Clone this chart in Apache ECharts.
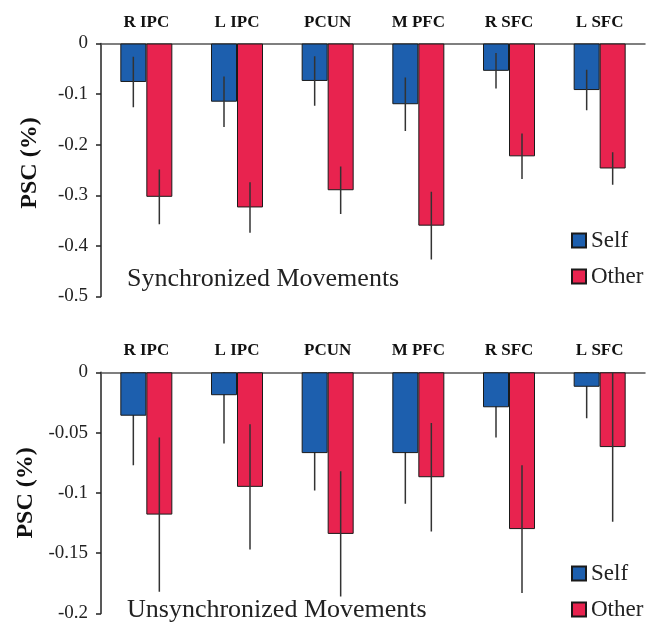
<!DOCTYPE html>
<html>
<head>
<meta charset="utf-8">
<script src="https://cdn.jsdelivr.net/npm/echarts@6/dist/echarts.min.js"></script>
<style>
  html, body { margin: 0; padding: 0; background: #fff; }
  #chart { width: 654px; height: 623px; }
</style>
</head>
<body>
<div id="chart"></div>
<script>
// Brain regions (one group of bars each)
const categories = ['R IPC', 'L IPC', 'PCUN', 'M PFC', 'R SFC', 'L SFC'];

// Synchronized movements: mean PSC and error
const syncSelf = [-0.076, -0.115, -0.074, -0.120, -0.054, -0.092];
const syncSelfErr = [0.050, 0.050, 0.049, 0.053, 0.035, 0.040];
const syncOther = [-0.303, -0.324, -0.290, -0.360, -0.223, -0.247];
const syncOtherErr = [0.054, 0.050, 0.047, 0.067, 0.045, 0.032];

// Unsynchronized movements: mean PSC and error
const unsyncSelf = [-0.036, -0.019, -0.067, -0.067, -0.029, -0.012];
const unsyncSelfErr = [0.041, 0.040, 0.031, 0.042, 0.025, 0.026];
const unsyncOther = [-0.118, -0.095, -0.134, -0.087, -0.130, -0.062];
const unsyncOtherErr = [0.064, 0.052, 0.052, 0.045, 0.053, 0.062];

const SERIF = '"Liberation Serif", "DejaVu Serif", serif';
const BLUE = '#1d5fae';
const RED = '#e8234f';
const BAR_W = 26;

function errData(vals, errs) {
  return vals.map((v, i) => [i, v, errs[i]]);
}

function errRender(offset) {
  return function (params, api) {
    const i = api.value(0);
    const v = api.value(1);
    const e = api.value(2);
    const a = api.coord([i, v + e]);
    const b = api.coord([i, v - e]);
    const x = a[0] + offset;
    return {
      type: 'line',
      shape: { x1: x, y1: a[1], x2: x, y2: b[1] },
      style: { stroke: '#333', lineWidth: 1.5 }
    };
  };
}

function xAxisFor(gridIndex, margin) {
  return {
    type: 'category',
    gridIndex: gridIndex,
    position: 'top',
    data: categories,
    axisLine: { lineStyle: { color: '#555', width: 1.5 } },
    axisTick: { show: false },
    axisLabel: { margin: margin, fontFamily: SERIF, fontWeight: 'bold', fontSize: 17, color: '#111' }
  };
}

function yAxisFor(gridIndex, min, interval, namePad) {
  return {
    type: 'value',
    gridIndex: gridIndex,
    min: min,
    max: 0,
    interval: interval,
    name: 'PSC (%)',
    nameLocation: 'middle',
    nameRotate: 90,
    nameGap: 59,
    nameTextStyle: {
      fontFamily: SERIF, fontWeight: 'bold', fontSize: 24, color: '#111',
      padding: [0, 0, 0, namePad]
    },
    splitLine: { show: false },
    axisLine: { show: true, lineStyle: { color: '#222', width: 1.5 } },
    axisTick: { show: true, length: 5, lineStyle: { color: '#222', width: 1.5 } },
    axisLabel: { margin: 13, fontFamily: SERIF, fontSize: 19, color: '#222' }
  };
}

function barSeries(name, axisIndex, data, color) {
  return {
    name: name,
    type: 'bar',
    xAxisIndex: axisIndex,
    yAxisIndex: axisIndex,
    data: data,
    barWidth: BAR_W,
    barGap: '0%',
    z: 2,
    itemStyle: { color: color, borderColor: '#1a1a1a', borderWidth: 1 }
  };
}

function errSeries(axisIndex, vals, errs, offset, z) {
  return {
    type: 'custom',
    xAxisIndex: axisIndex,
    yAxisIndex: axisIndex,
    data: errData(vals, errs),
    renderItem: errRender(offset),
    clip: true,
    z: z,
    silent: true
  };
}

function legendFor(top) {
  return {
    data: ['Self', 'Other'],
    orient: 'vertical',
    left: 571,
    top: top,
    height: 120,
    padding: 0,
    itemWidth: 14,
    itemHeight: 14,
    itemGap: 13,
    icon: 'rect',
    textStyle: { fontFamily: SERIF, fontSize: 23, color: '#222' }
  };
}

const chart = echarts.init(document.getElementById('chart'));
chart.setOption({
  animation: false,
  backgroundColor: '#fff',
  grid: [
    { left: 101, top: 43.5, width: 544, height: 253 },
    { left: 101, top: 372.3, width: 544, height: 245 }
  ],
  xAxis: [xAxisFor(0, 12), xAxisFor(1, 13)],
  yAxis: [yAxisFor(0, -0.5, 0.1, 14), yAxisFor(1, -0.2, 0.05, 0)],
  legend: [legendFor(229), legendFor(562)],
  graphic: [
    {
      type: 'text', left: 127, top: 266,
      style: { text: 'Synchronized Movements', fontFamily: SERIF, fontSize: 26, fill: '#222' }
    },
    {
      type: 'text', left: 127, top: 597,
      style: { text: 'Unsynchronized Movements', fontFamily: SERIF, fontSize: 26, fill: '#222' }
    }
  ],
  series: [
    barSeries('Self', 0, syncSelf, BLUE),
    barSeries('Other', 0, syncOther, RED),
    errSeries(0, syncSelf, syncSelfErr, -BAR_W / 2, 3),
    errSeries(0, syncOther, syncOtherErr, BAR_W / 2, 3),
    barSeries('Self', 1, unsyncSelf, BLUE),
    barSeries('Other', 1, unsyncOther, RED),
    errSeries(1, unsyncSelf, unsyncSelfErr, -BAR_W / 2, 1),
    errSeries(1, unsyncOther, unsyncOtherErr, BAR_W / 2, 3)
  ]
});
</script>
</body>
</html>
